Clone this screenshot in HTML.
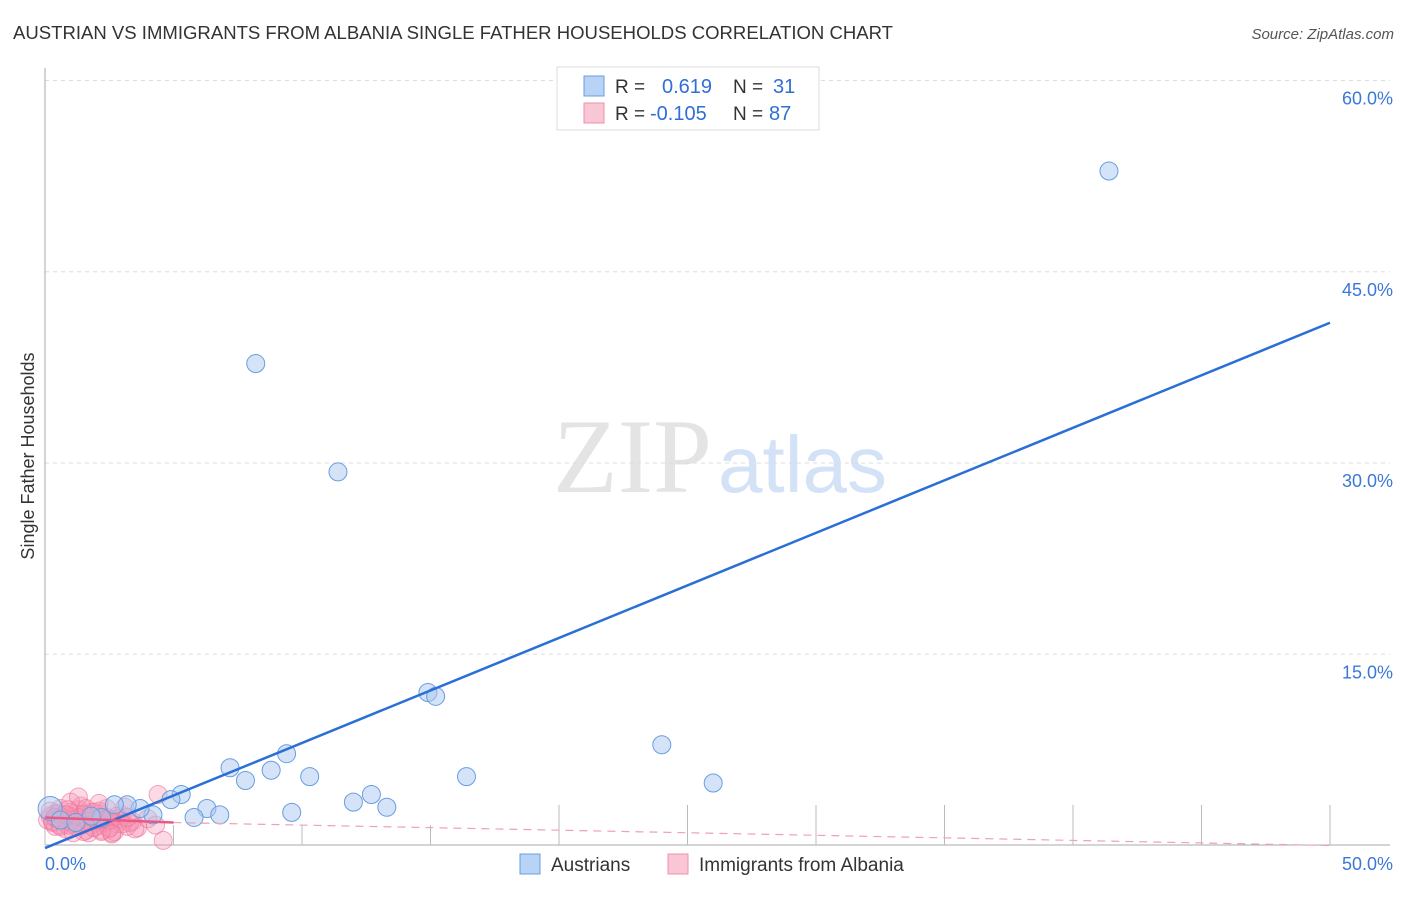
<!DOCTYPE html>
<html><head><meta charset="utf-8"><style>
body{margin:0;background:#fff;font-family:"Liberation Sans",sans-serif}
</style></head><body>
<svg width="1406" height="892" xmlns="http://www.w3.org/2000/svg">
<text x="13" y="39" font-size="18.5" fill="#333" textLength="880" lengthAdjust="spacingAndGlyphs">AUSTRIAN VS IMMIGRANTS FROM ALBANIA SINGLE FATHER HOUSEHOLDS CORRELATION CHART</text>
<text x="1394" y="39" font-size="15" fill="#555" text-anchor="end" font-style="italic">Source: ZipAtlas.com</text>
<text x="553" y="492" font-size="106" fill="#e4e4e4" font-family="Liberation Serif,serif">ZIP</text>
<text x="718" y="492" font-size="80" fill="#d3e2f6">atlas</text>
<text transform="translate(34,456) rotate(-90)" font-size="18" fill="#333" text-anchor="middle">Single Father Households</text>
<g id="grid"></g><g id="axes"></g><g id="pts"></g><g id="trend"></g>
<g>
<rect x="557" y="67" width="262" height="63" fill="#fff" stroke="#ddd"/>
<rect x="584" y="76" width="20" height="20" fill="#b8d3f5" stroke="#6a9de0"/>
<text x="615" y="93" font-size="19" fill="#333">R =</text><text x="662" y="93" font-size="20" fill="#2f6fd6">0.619</text>
<text x="733" y="93" font-size="19" fill="#333">N =</text><text x="773" y="93" font-size="20" fill="#2f6fd6">31</text>
<rect x="584" y="103" width="20" height="20" fill="#f9c6d5" stroke="#ee8fab"/>
<text x="615" y="120" font-size="19" fill="#333">R =</text><text x="650" y="120" font-size="20" fill="#2f6fd6">-0.105</text>
<text x="733" y="120" font-size="19" fill="#333">N =</text><text x="769" y="120" font-size="20" fill="#2f6fd6">87</text>
</g>
<g>
<rect x="520" y="854" width="20" height="20" fill="#b8d3f5" stroke="#6a9de0"/>
<text x="551" y="871" font-size="19" fill="#333">Austrians</text>
<rect x="668" y="854" width="20" height="20" fill="#f9c6d5" stroke="#ee8fab"/>
<text x="699" y="871" font-size="19" fill="#333">Immigrants from Albania</text>
</g>
</svg>
<script>
const yTicks=[15,30,45,60];
const yTickLabels=["15.0%","30.0%","45.0%","60.0%"];
const xTicks=[0,5,10,15,20,25,30,35,40,45,50];
const xEndLabels=["0.0%","50.0%"];
const blueX=[41.4,8.2,11.4,14.9,15.2,24.0,26.0,16.4,7.2,9.4,8.8,10.3,7.8,12.0,12.7,13.3,9.6,5.3,4.9,6.3,6.8,5.8,4.2,3.7,3.2,2.7,2.2,0.2,0.6,1.2,1.8];
const blueY=[52.9,37.8,29.3,12.0,11.7,7.9,4.9,5.4,6.1,7.2,5.9,5.4,5.1,3.4,4.0,3.0,2.6,4.0,3.6,2.9,2.4,2.2,2.4,2.9,3.2,3.2,2.2,2.9,2.0,1.8,2.3];
const pinkX=[0.1,0.2,0.3,0.4,0.5,0.6,0.7,0.8,0.9,1.0,1.1,1.2,1.3,1.4,1.5,1.6,1.7,1.8,1.9,2.0,2.1,2.2,2.3,2.4,2.5,2.6,2.8,3.0,3.2,3.4,3.6,4.0,4.3,4.6,0.2,0.4,0.6,0.8,1.0,1.2,1.4,1.6,1.8,2.0,2.2,2.4,2.6,0.3,0.7,1.1,1.5,1.9,2.3,2.7,3.1,0.5,0.9,1.3,1.7,2.1,2.5,2.9,3.3,0.4,1.0,1.6,2.2,2.8,1.3,1.4,2.0,2.2,0.8,1.2,1.7,2.5,3.0,3.5,0.6,1.9,2.6,4.4,0.9,1.5,2.1,3.2,1.1];
const pinkY=[2.0,2.3,1.8,2.5,2.1,1.6,2.4,2.0,1.9,2.6,2.2,1.5,2.8,2.1,1.7,2.4,1.9,2.2,1.4,2.0,2.5,1.6,1.8,2.2,1.3,2.0,1.7,2.4,1.5,1.9,1.4,2.1,1.6,0.4,2.7,1.5,2.9,1.3,2.3,2.0,3.1,1.2,2.6,1.8,1.1,2.9,1.0,1.9,2.2,1.7,2.4,1.4,2.0,1.1,3.0,2.5,1.6,2.2,1.0,2.7,1.4,2.1,1.8,2.2,3.4,2.9,1.2,2.3,3.8,1.6,2.0,2.1,2.4,1.8,1.9,2.0,1.7,1.3,1.5,2.6,0.9,4.0,2.8,1.1,3.3,2.2,1.0];
const blueTrend=[0,-0.2,50,41.0];
const pinkTrendSolid=[0,2.2,5,1.8];
const pinkTrendDash=[5,1.8,50,0.0];
const X=v=>45+v*25.7, Y=v=>845.5-v*12.75;
const NS="http://www.w3.org/2000/svg";
function mk(p,t,a){const e=document.createElementNS(NS,t);for(const k in a)e.setAttribute(k,a[k]);document.getElementById(p).appendChild(e);return e;}
yTicks.forEach((t,i)=>{
 const l=mk('grid','line',{x1:45,x2:1390,y1:Y(t),y2:Y(t),stroke:'#ddd','stroke-dasharray':'4,4'});
 
 
 const tx=mk('grid','text',{x:1393,y:Y(t)+24,'font-size':18,fill:'#3b78d8','text-anchor':'end'});tx.textContent=yTickLabels[i];
 
 
});
mk('axes','line',{x1:45,x2:45,y1:68,y2:845,stroke:'#aaa'});
mk('axes','line',{x1:45,x2:1390,y1:845,y2:845,stroke:'#aaa'});
xTicks.forEach(t=>{
 const h=(t>0&&t<20)?20:40;
 const l=mk('axes','line',{x1:X(t),x2:X(t),y1:845-h,y2:845,stroke:'#bbb'});
 
 
});
let t0=mk('axes','text',{x:45,y:870,'font-size':18,fill:'#3b78d8'});t0.textContent=xEndLabels[0];


let t1=mk('axes','text',{x:1393,y:870,'font-size':18,fill:'#3b78d8','text-anchor':'end'});t1.textContent=xEndLabels[1];


pinkX.forEach((x,i)=>{const c=mk('pts','circle',{cx:X(x),cy:Y(pinkY[i]),r:9,fill:'rgba(245,150,180,0.35)',stroke:'rgba(236,110,150,0.6)'});
 
 });
blueX.forEach((x,i)=>{const c=mk('pts','circle',{cx:X(x),cy:Y(blueY[i]),r:i==27?12:9,fill:'rgba(170,200,240,0.5)',stroke:'#6a9de0'});
 
 });
let b=mk('trend','line',{x1:X(blueTrend[0]),y1:Y(blueTrend[1]),x2:X(blueTrend[2]),y2:Y(blueTrend[3]),stroke:'#2a6fd6','stroke-width':2.5});


let p=mk('trend','line',{x1:X(pinkTrendSolid[0]),y1:Y(pinkTrendSolid[1]),x2:X(pinkTrendSolid[2]),y2:Y(pinkTrendSolid[3]),stroke:'#e85a85','stroke-width':2.5});


let pd=mk('trend','line',{x1:X(pinkTrendDash[0]),y1:Y(pinkTrendDash[1]),x2:X(pinkTrendDash[2]),y2:Y(pinkTrendDash[3]),stroke:'#eea0b8','stroke-width':1.2,'stroke-dasharray':'8,6'});


</script>
</body></html>
